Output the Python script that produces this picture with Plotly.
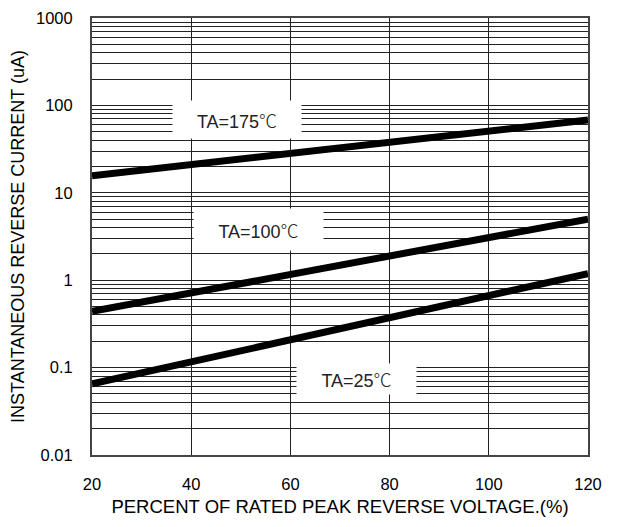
import plotly.graph_objects as go
import math

# Data
voltage_pct = [20, 40, 60, 80, 100, 120]
current_175 = [15.7, 21, 28.3, 37.8, 50.7, 68]
current_100 = [0.44, 0.72, 1.16, 1.89, 3.07, 5.0]
current_25 = [0.065, 0.116, 0.21, 0.37, 0.67, 1.19]
x_ticks = [20, 40, 60, 80, 100, 120]
y_decades = [0.01, 0.1, 1, 10, 100, 1000]
y_labels = ["0.01", "0.1", "1", "10", "100", "1000"]

# gridline positions at 1..9 of each decade
y_tickvals, y_ticktext = [], []
for d, lab in zip(y_decades, y_labels):
    if d == 1000:
        y_tickvals.append(d); y_ticktext.append(lab)
        continue
    for m in range(1, 10):
        y_tickvals.append(d * m)
        y_ticktext.append(lab if m == 1 else "")

FONT = "Liberation Sans, Arial, sans-serif"
DEG = '<span style="font-family:Noto Sans CJK SC;font-weight:300">℃</span>'

fig = go.Figure()
for ys in (current_175, current_100, current_25):
    fig.add_trace(go.Scatter(x=voltage_pct, y=ys, mode="lines",
                             line=dict(color="black", width=7),
                             showlegend=False, hoverinfo="skip"))

labels = [
    dict(text="TA=175" + DEG, x=49.3, y=69.8, w=126, h=35),
    dict(text="TA=100" + DEG, x=53.6, y=3.8, w=127, h=39),
    dict(text="TA=25" + DEG, x=73.4, y=0.0746, w=117, h=28),
]
for lb in labels:
    fig.add_annotation(x=lb["x"], y=math.log10(lb["y"]), xref="x", yref="y",
                       text=lb["text"], showarrow=False,
                       bgcolor="white", width=lb["w"], height=lb["h"],
                       font=dict(family=FONT, size=18, color="#222"))

fig.update_layout(
    width=611, height=519,
    margin=dict(l=84, r=31, t=10, b=72),
    paper_bgcolor="white", plot_bgcolor="white",
    font=dict(family=FONT, size=16.5, color="black"),
)
fig.update_xaxes(range=[20, 120], tickvals=x_ticks, ticks="",
                 showgrid=True, gridcolor="#222", gridwidth=1,
                 showline=True, linecolor="#444", linewidth=2, mirror=True,
                 zeroline=False, ticklabelstandoff=13, automargin=False,
                 ticklabeloverflow="allow",
                 title=dict(text="PERCENT OF RATED PEAK REVERSE VOLTAGE.(%)",
                            font=dict(size=18.5), standoff=8))
fig.update_yaxes(type="log", range=[-2, 3], tickvals=y_tickvals, ticktext=y_ticktext,
                 ticks="", showgrid=True, gridcolor="#222", gridwidth=1,
                 showline=True, linecolor="#444", linewidth=2, mirror=True,
                 zeroline=False, ticklabelstandoff=14, automargin=False,
                 ticklabeloverflow="allow",
                 title=dict(text="INSTANTANEOUS REVERSE CURRENT (uA)",
                            font=dict(size=18), standoff=8))

fig.write_html("out.html")
